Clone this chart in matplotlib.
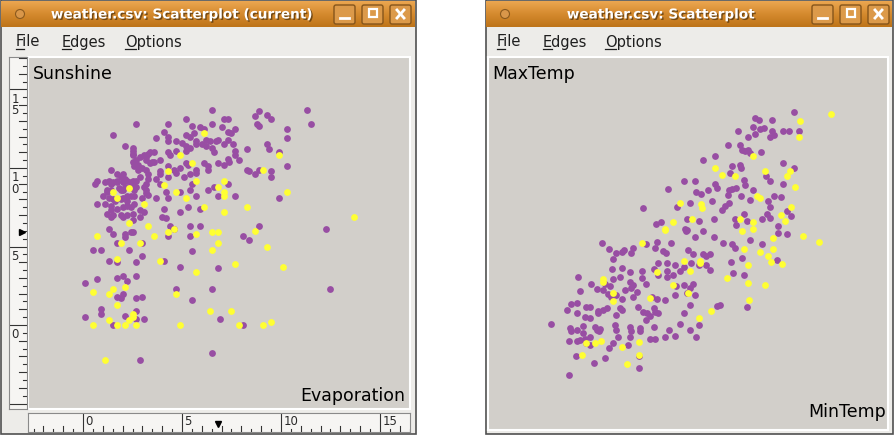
# GGobi style scatterplot windows: weather.csv

import numpy as np
import matplotlib.pyplot as plt
import matplotlib.patheffects as pe
from matplotlib.colors import LinearSegmentedColormap
from matplotlib.patches import Rectangle, Circle, FancyBboxPatch

W, H = 894, 436
PURPLE = '#984EA3'
YELLOW = '#FFFF33'
PLOT_BG = '#D2CFCA'
WIN_BG = '#EDECE9'

# left window: Evaporation (x) vs Sunshine (y)
evap_purple = [
    6.5, 11.3, 8.9, 9.3, 9.5, 8.7, 8.8, 8.9, 11.5, 2.7,
    4.3, 5.2, 7.1, 7.3, 6.5, 5.5, 5.9, 6.1, 7.0, 7.3,
    7.5, 7.7, 10.3, 10.3, 1.5, 4.1, 4.3, 3.7, 4.3, 4.7,
    5.0, 5.2, 5.4, 5.6, 5.7, 6.2, 6.4, 6.7, 6.8, 7.3,
    7.6, 8.3, 9.3, 9.4, 9.9, 2.1, 2.5, 2.5, 3.1, 3.3,
    3.4, 3.6, 2.9, 2.7, 2.6, 2.8, 3.2, 3.4, 3.6, 3.9,
    4.3, 4.4, 4.7, 5.2, 5.2, 5.4, 5.7, 6.0, 6.2, 6.5,
    6.6, 7.1, 7.7, 7.7, 7.3, 7.4, 7.1, 7.9, 8.3, 8.4,
    8.7, 8.9, 9.5, 9.5, 10.3, 2.0, 1.4, 3.9, 4.3, 4.6,
    4.9, 5.2, 5.3, 5.7, 5.7, 6.1, 6.3, 6.3, 6.8, 5.4,
    5.1, 4.7, 4.3, 3.3, 3.3, 3.7, 3.9, 2.7, 2.7, 2.5,
    2.2, 1.9, 1.7, 1.3, 0.6, 0.7, 1.2, 1.0, 1.1, 1.4,
    1.5, 1.9, 2.1, 2.2, 2.6, 2.6, 3.1, 3.2, 3.7, 4.2,
    4.3, 4.9, 5.4, 5.5, 5.7, 6.3, 6.6, 6.8, 7.3, 7.7,
    9.9, 0.7, 1.2, 1.4, 1.7, 2.0, 2.2, 2.5, 2.5, 2.9,
    3.1, 4.0, 4.2, 4.1, 4.9, 5.3, 5.9, 1.3, 1.5, 2.1,
    2.4, 2.5, 2.1, 4.4, 4.6, 5.4, 5.4, 5.9, 4.3, 8.1,
    8.4, 8.9, 12.3, 1.7, 2.3, 3.0, 0.5, 0.9, 1.3, 1.7,
    2.7, 3.0, 4.1, 4.9, 5.5, 6.8, 0.1, 0.7, 1.7, 2.0,
    2.2, 2.7, 1.7, 2.0, 1.9, 2.7, 3.0, 4.7, 5.5, 6.5,
    12.5, 0.1, 0.9, 0.9, 2.1, 2.7, 2.7, 3.1, 6.9, 1.5,
    8.1, 2.9, 6.5,
    1.1, 1.4, 1.5, 1.7, 2.0, 2.1, 2.4, 2.5, 2.6, 2.3,
    2.0, 1.8, 1.4, 1.2, 1.3, 1.6, 1.9, 2.0, 2.2, 2.4,
    2.6, 2.4, 2.0, 1.4, 1.5, 1.9, 2.2, 2.9, 3.2, 3.3,
    3.0, 3.2, 2.9, 2.5, 2.8, 3.0, 3.2, 3.5, 2.5, 3.2,
    3.9, 2.5, 1.7,
]
sun_purple = [
    13.7, 13.7, 13.6, 13.4, 13.1, 13.3, 12.8, 12.7, 12.8, 12.8,
    12.8, 13.1, 13.1, 13.1, 12.8, 12.7, 12.6, 12.5, 12.6, 12.3,
    12.2, 12.5, 12.5, 11.9, 12.1, 12.3, 12.0, 11.9, 11.7, 11.7,
    11.6, 12.1, 12.0, 12.2, 11.7, 11.8, 11.7, 11.7, 11.8, 11.8,
    11.5, 11.2, 11.5, 11.2, 11.0, 11.4, 11.1, 10.8, 10.8, 10.9,
    11.0, 11.0, 10.7, 10.5, 10.1, 9.9, 10.5, 10.3, 10.4, 10.5,
    11.0, 10.8, 11.1, 11.1, 11.4, 11.3, 11.5, 11.5, 11.4, 11.3,
    11.0, 11.5, 11.1, 10.8, 10.6, 10.4, 10.2, 10.5, 9.9, 9.8,
    9.6, 9.9, 9.8, 9.4, 10.1, 9.6, 9.9, 9.8, 10.1, 9.9,
    10.0, 10.3, 10.2, 9.9, 9.7, 10.3, 10.1, 9.9, 10.3, 9.6,
    9.4, 9.7, 9.4, 9.6, 9.3, 9.3, 9.0, 9.2, 8.8, 9.0,
    9.2, 9.4, 9.1, 9.2, 9.0, 9.2, 8.6, 8.2, 7.7, 7.6,
    8.0, 8.6, 8.8, 8.2, 8.6, 8.2, 8.8, 8.4, 8.1, 8.5,
    8.1, 8.5, 8.6, 9.0, 8.2, 8.6, 8.8, 8.2, 9.0, 8.2,
    8.1, 7.7, 7.1, 6.9, 7.4, 6.9, 7.6, 7.1, 6.7, 6.9,
    7.2, 6.9, 6.8, 7.4, 7.2, 7.5, 7.4, 6.1, 5.8, 5.8,
    5.9, 5.9, 5.6, 6.3, 6.1, 6.3, 5.7, 6.3, 5.7, 5.7,
    5.4, 6.3, 6.1, 5.2, 4.8, 5.2, 4.8, 4.8, 4.1, 4.0,
    4.0, 4.4, 4.1, 3.7, 4.7, 3.6, 2.7, 2.9, 3.0, 3.1,
    2.8, 3.1, 1.8, 2.0, 1.7, 1.7, 1.8, 2.3, 1.6, 2.3,
    2.3, 0.5, 1.0, 0.7, 0.6, 0.9, 0.4, 0.4, 0.4, 0.0,
    0.0, -2.2, -1.8,
    9.1, 9.0, 9.1, 9.2, 9.1, 9.3, 9.1, 9.2, 8.8, 8.8,
    8.6, 8.7, 8.6, 8.5, 8.1, 7.9, 8.0, 8.1, 7.9, 8.2,
    7.7, 7.5, 7.5, 7.3, 7.0, 7.0, 7.0, 7.3, 8.6, 8.3,
    8.1, 9.0, 9.4, 10.4, 10.2, 10.0, 10.7, 10.4, 10.9, 9.9,
    9.6, 11.3, 9.6,
]
evap_yellow = [
    6.1, 9.9, 4.9, 5.5, 4.3, 9.1, 5.7, 7.1, 6.8, 4.1,
    2.3, 1.5, 1.7, 4.7, 5.2, 7.1, 7.1, 10.3, 3.1, 6.1,
    8.3, 7.1, 13.7, 2.3, 3.3, 0.7, 3.6, 4.3, 4.6, 5.7,
    6.5, 6.8, 6.8, 8.7, 9.3, 1.9, 2.9, 6.5, 1.7, 3.9,
    7.7, 10.1, 5.7, 0.5, 1.3, 1.5, 2.1, 4.7, 1.7, 6.4,
    7.5, 2.5, 2.5, 1.3, 2.3, 0.5, 1.7, 2.1, 2.7, 4.9,
    7.9, 9.1, 9.5, 1.1,
]
sun_yellow = [
    12.2, 10.8, 10.8, 10.3, 9.8, 9.9, 9.2, 9.2, 8.8, 8.9,
    8.7, 8.5, 8.1, 8.5, 8.1, 8.5, 8.2, 8.5, 7.7, 7.5,
    7.5, 7.2, 6.9, 6.5, 6.3, 5.7, 5.7, 5.9, 6.1, 5.8,
    5.9, 5.9, 5.2, 6.0, 5.0, 5.2, 5.2, 4.8, 4.2, 4.1,
    3.9, 3.7, 3.4, 2.1, 2.0, 2.3, 2.4, 2.0, 1.3, 0.9,
    0.9, 0.7, 0.5, 0.3, 0.3, 0.0, 0.0, 0.0, 0.0, 0.0,
    0.0, 0.0, 0.2, -2.2,
]

# right window: MinTemp (x) vs MaxTemp (y)
mintemp_purple = [
    17.5, 13.8, 14.2, 15.4, 13.7, 14.3, 14.7, 15.4, 15.2, 15.6,
    16.5, 17.0, 17.9, 12.3, 13.2, 13.8, 11.3, 12.4, 12.6, 12.9,
    13.2, 13.4, 14.4, 10.1, 9.0, 11.7, 12.4, 12.5, 11.5, 16.5,
    17.5, 14.9, 15.2, 16.5, 7.2, 8.2, 10.1, 10.3, 12.8, 12.9,
    5.7, 8.3, 8.8, 9.5, 11.4, 11.7, 12.1, 11.3, 12.5, 13.7,
    13.4, 15.1, 15.6, 16.3, 9.8, 7.8, 6.6, 11.4, 11.0, 10.8,
    15.2, 16.8, 15.0, 15.2, 17.2, 12.8, 12.0, 10.0, 8.6, 7.5,
    3.4, 5.1, 4.6, 12.1, 13.1, 16.0, 14.5, 7.3, 7.5,
    7.4, 8.2, 9.0, 10.0, 10.9, 11.7, 12.0, 12.6, 13.4, 14.5,
    15.9, 16.8, 16.0, -0.4, 0.2, 0.9, 1.4, 1.6, 2.3, 2.5,
    3.7, 4.5, 4.7, 5.3, 5.5, 6.0, 7.6, 8.1, 9.0, 9.3,
    9.6, 9.3, 9.6, 8.6, 7.9, 7.2, 6.8, 6.4, 5.6, 4.8,
    4.4, 4.8, 5.6, 6.2, 5.6, 0.6, 0.5, 1.4, 2.2, 3.3,
    3.3, 3.7, 2.2, 2.5, 2.3, 2.8, 1.2, 0.6, -0.2, -0.3,
    -0.9, -1.5, -2.7, -2.5, 0.3, 0.1, 0.4, 0.9, 1.4, 1.7,
    1.2, 1.4, 0.9, 0.0, -0.3, -0.8, -1.6, -1.9, -2.8, -3.3,
    -3.7, -2.8, -2.0, -1.6, -0.8, 2.5, 2.9, 3.4, 3.8, 4.4,
    4.5, 4.0, 4.8, 3.7, 4.2, 4.7, 5.4, 6.4, 6.5, 7.2,
    7.5, 7.8, 8.1, 8.2, 7.2, 7.8, 10.3, 10.6, 11.8, 12.8,
    11.6, 13.1, -5.2, -3.4, -3.3, -2.8, -2.2, -2.2, -2.0, -1.6,
    -1.1, -0.9, -0.6, 0.8, 0.9, 2.2, 2.3, 3.1, 3.1, 4.4,
    4.0, 4.5, 5.4, 5.8, 6.4, 6.8, 7.8, 8.3, 8.6, -3.5,
    -2.8, -2.5, -1.9, -1.6, 0.6, 0.2, 2.0, 2.2, 3.0, 3.0,
    -0.2, -1.2, -2.9, -3.5, 1.1, -0.7,
]
maxtemp_purple = [
    35.8, 35.1, 34.9, 34.9, 34.2, 34.0, 34.1, 33.7, 33.1, 33.3,
    33.8, 33.8, 33.8, 33.8, 33.1, 33.4, 32.3, 32.3, 31.7, 31.6,
    31.7, 31.4, 31.5, 31.1, 30.6, 30.0, 30.1, 29.8, 29.2, 30.3,
    29.8, 28.9, 28.4, 28.1, 28.4, 28.4, 28.1, 27.6, 28.5, 28.0,
    27.5, 27.2, 27.0, 27.4, 27.4, 27.5, 27.6, 26.9, 26.8, 27.4,
    26.4, 26.2, 26.8, 26.7, 26.3, 26.0, 25.6, 26.0, 25.7, 25.3,
    25.6, 25.2, 24.9, 24.4, 24.6, 24.9, 24.3, 24.3, 24.1, 24.3,
    25.5, 24.0, 23.8, 23.7, 24.1, 23.6, 24.3, 23.3, 23.1,
    23.0, 22.4, 23.0, 22.4, 21.7, 21.6, 21.2, 20.1, 22.1, 21.6,
    19.9, 22.7, 22.8, 21.7, 21.1, 20.7, 20.8, 21.0, 20.7, 21.2,
    21.6, 21.2, 21.9, 20.9, 20.7, 21.7, 21.0, 20.6, 20.6, 20.4,
    20.6, 19.4, 18.9, 19.4, 19.6, 19.2, 18.7, 19.4, 19.6, 19.6,
    19.0, 18.3, 18.1, 18.3, 18.7, 20.0, 19.0, 19.1, 18.6, 18.8,
    18.0, 17.4, 17.6, 17.3, 16.9, 16.5, 18.1, 17.9, 17.4, 16.7,
    16.8, 17.4, 18.1, 16.6, 17.1, 16.3, 16.0, 16.2, 15.8, 16.7,
    14.8, 14.6, 14.0, 14.8, 14.6, 14.2, 14.9, 14.9, 15.3, 15.2,
    14.6, 14.2, 13.8, 13.7, 14.5, 16.0, 14.9, 14.4, 14.2, 14.8,
    14.4, 13.9, 14.2, 13.5, 16.0, 15.8, 15.6, 16.2, 17.1, 17.3,
    16.4, 16.9, 17.4, 16.2, 14.3, 15.1, 15.0, 15.1, 18.5, 18.3,
    19.7, 14.9, 13.1, 12.6, 12.3, 12.4, 12.9, 12.1, 11.5, 11.7,
    12.8, 12.4, 12.5, 13.0, 12.4, 12.8, 12.3, 12.6, 12.3, 12.7,
    11.5, 11.5, 11.7, 12.4, 11.8, 13.1, 12.4, 11.7, 13.0, 11.3,
    11.2, 11.4, 11.0, 10.8, 11.0, 10.5, 10.8, 11.7, 9.6, 8.4,
    9.4, 8.9, 9.6, 7.6, 11.7, 12.3,
]
mintemp_yellow = [
    20.9, 18.0, 17.9, 13.7, 10.1, 10.8, 12.0, 14.8, 17.1, 16.8,
    17.6, 14.0, 14.3, 6.8, 8.8, 8.9, 17.2, 16.3, 16.6, 8.0,
    6.2, 5.4, 12.4, 13.7, 13.7,
    3.3, 5.4, 7.2, 7.8, 8.7, 8.7, 4.7, 6.2, 7.6, 4.0,
    0.6, -0.3, -0.3, 0.6, 9.7, 8.6, 11.2, 13.2, 14.8, 13.3,
    13.2, 14.3, 15.1, 15.3, 15.5, 12.8, 15.5, 16.4, 18.3, 19.8,
    12.6, -1.9, -1.1, -0.5, 1.4, 3.0, 3.0, 1.9, -2.3,
]
maxtemp_yellow = [
    35.6, 34.8, 33.1, 31.1, 29.8, 29.0, 28.9, 29.5, 29.5, 28.9,
    27.7, 26.8, 26.6, 26.0, 25.9, 25.5, 25.6, 24.8, 24.1, 24.3,
    24.0, 23.2, 24.3, 24.0, 23.3,
    21.8, 23.1, 19.8, 18.8, 19.8, 19.6, 18.6, 17.3, 16.4, 15.9,
    16.4, 17.9, 17.6, 15.5, 14.5, 13.7, 18.0, 17.5, 17.3, 15.6,
    19.4, 20.8, 20.4, 19.7, 21.1, 21.1, 22.3, 19.5, 22.5, 21.9,
    23.0, 11.0, 11.0, 11.2, 10.6, 11.1, 9.7, 8.8, 9.7,
]

fig = plt.figure(figsize=(W / 100, H / 100), dpi=100)
fig.patch.set_facecolor('white')

# background axes in pixel units, used for the window chrome
bg = fig.add_axes([0, 0, 1, 1])
bg.axis('off')
title_cmap = LinearSegmentedColormap.from_list('title', ['#EBA650', '#D58A2E', '#BE7419'])
grad = np.linspace(0, 1, 30)[:, None]


def px_axes(x0, y0, x1, y1):
    return fig.add_axes([x0 / W, 1 - y1 / H, (x1 - x0) / W, (y1 - y0) / H])


def window(x0, x1, title, tx, btn_x, menu):
    bg.add_patch(Rectangle((x0 + 0.5, 0.5), x1 - x0 - 1, 433, fc=WIN_BG, ec='#505050', lw=1.2, zorder=1))
    bg.imshow(grad, extent=(x0 + 1, x1 - 1, 27, 1), cmap=title_cmap, aspect='auto',
              interpolation='bilinear', zorder=2)
    bg.add_patch(Circle((x0 + 20, 14), 4.5, fc='#D9974A', ec='#8B5A1E', lw=0.8, zorder=3))
    bg.text(tx, 14.5, title, color='white', fontsize=9.8, fontweight='bold', ha='center', va='center',
            zorder=4, path_effects=[pe.withSimplePatchShadow(offset=(1, -1), shadow_rgbFace='#5B3A10', alpha=0.8)])
    for i, bx in enumerate(btn_x):
        bg.add_patch(FancyBboxPatch((bx, 5), 21, 19, boxstyle='round,pad=0,rounding_size=2',
                                    fc='#DC9A4A', ec='#85551B', lw=1, zorder=3))
        if i == 0:
            bg.plot([bx + 6, bx + 15], [18, 18], color='white', lw=2, zorder=4)
        elif i == 1:
            bg.add_patch(Rectangle((bx + 6.5, 9.5), 8, 8, fill=False, ec='white', lw=1.6, zorder=4))
        else:
            bg.plot([bx + 7, bx + 14], [10, 18], color='white', lw=2, zorder=4)
            bg.plot([bx + 7, bx + 14], [18, 10], color='white', lw=2, zorder=4)
    for label, mx, uw in menu:
        bg.text(mx, 46.5, label, fontsize=10.5, ha='left', va='baseline', color='#1E1E1E', zorder=4)
        bg.plot([mx, mx + uw], [49.5, 49.5], color='#1E1E1E', lw=0.9, zorder=4)


window(0, 416, 'weather.csv: Scatterplot (current)', 182, [334, 362, 390],
       [('File', 16, 8), ('Edges', 62, 9), ('Options', 125, 11)])
window(485, 893, 'weather.csv: Scatterplot', 661, [812, 840, 868],
       [('File', 497, 8), ('Edges', 543, 9), ('Options', 605, 11)])
bg.set_xlim(0, W)
bg.set_ylim(H, 0)

# left scatterplot
ax1 = px_axes(28, 57, 410, 409)
ax1.set_facecolor(PLOT_BG)
ax1.scatter(evap_purple, sun_purple, s=24, color=PURPLE, linewidths=0)
ax1.scatter(evap_yellow, sun_yellow, s=24, color=YELLOW, linewidths=0)
ax1.set_xlim(-2.78, 16.52)
ax1.set_ylim(-5.35, 17.07)
ax1.text(0.012, 0.952, 'Sunshine', transform=ax1.transAxes, fontsize=12.5, ha='left', va='center')
ax1.text(0.988, 0.037, 'Evaporation', transform=ax1.transAxes, fontsize=12.5, ha='right', va='center')

# right scatterplot
ax2 = px_axes(488, 57, 888, 430)
ax2.set_facecolor(PLOT_BG)
ax2.scatter(mintemp_purple, maxtemp_purple, s=24, color=PURPLE, linewidths=0)
ax2.scatter(mintemp_yellow, maxtemp_yellow, s=24, color=YELLOW, linewidths=0)
ax2.set_xlim(-11.07, 26.25)
ax2.set_ylim(1.71, 41.68)
ax2.text(0.01, 0.954, 'MaxTemp', transform=ax2.transAxes, fontsize=12.5, ha='left', va='center')
ax2.text(0.995, 0.048, 'MinTemp', transform=ax2.transAxes, fontsize=12.5, ha='right', va='center')

for ax in (ax1, ax2):
    ax.set_xticks([])
    ax.set_yticks([])
    for sp in ax.spines.values():
        sp.set_color('white')
        sp.set_linewidth(1.5)

# rulers of the left window
rl = px_axes(9, 57, 27, 409)
rb = px_axes(28, 413, 410, 432)
for r in (rl, rb):
    r.set_facecolor('#F6F5F3')
    r.set_xticks([])
    r.set_yticks([])
    for sp in r.spines.values():
        sp.set_color('#8A8A8A')
        sp.set_linewidth(0.8)

rl.set_xlim(0, 1)
rl.set_ylim(ax1.get_ylim())
for v in np.arange(-5, 17.01, 0.5):
    if v % 5 == 0:
        x0 = 0.0
    elif v % 1 == 0:
        x0 = 0.55
    else:
        x0 = 0.75
    rl.plot([x0, 1], [v, v], color='#333333', lw=0.8)
for v in (0, 5, 10, 15):
    rl.text(0.33, v - 0.2, '\n'.join(str(v)), ha='center', va='top', fontsize=8.5,
            linespacing=0.85, color='#2A2A2A')
rl.plot(0.72, 5.9, marker='>', ms=4, color='black')

rb.set_ylim(0, 1)
rb.set_xlim(ax1.get_xlim())
for v in np.arange(-2.5, 16.51, 0.5):
    if v % 5 == 0:
        y1 = 1.0
    elif v % 1 == 0:
        y1 = 0.32
    else:
        y1 = 0.18
    rb.plot([v, v], [0, y1], color='#333333', lw=0.8)
for v in (0, 5, 10, 15):
    rb.text(v + 0.12, 0.55, str(v), ha='left', va='center', fontsize=8.5, color='#2A2A2A')
rb.plot(6.8, 0.42, marker='v', ms=4, color='black')

plt.savefig('out.png', dpi=100)
